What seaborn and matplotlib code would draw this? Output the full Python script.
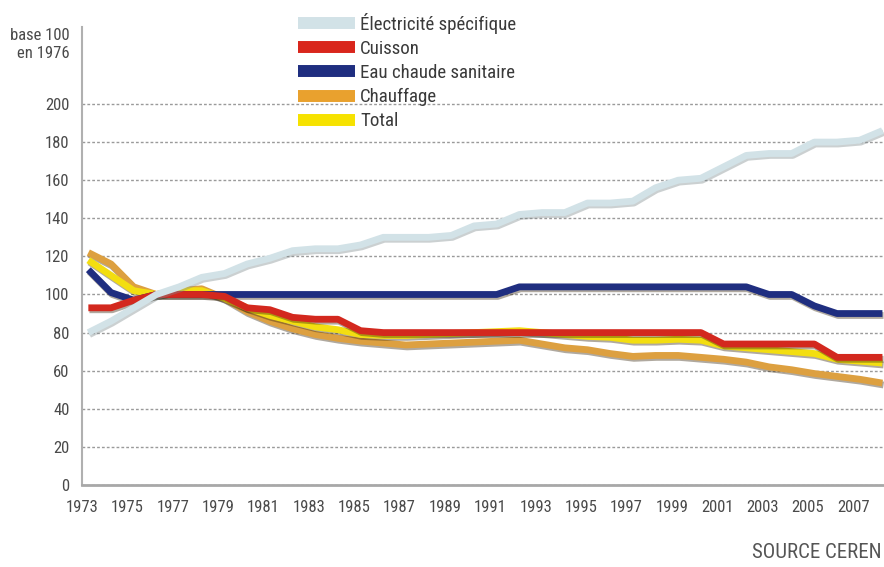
import pandas as pd
import matplotlib
matplotlib.use("Agg")
import matplotlib.pyplot as plt
import matplotlib.patheffects as pe
from matplotlib import font_manager
from matplotlib.lines import Line2D
import seaborn as sns

# Values (index, base 100 in 1976)
years = list(range(1973, 2009))

electricite = [80, 86, 93, 100, 104, 109, 111, 116, 119, 123, 124, 124, 126, 130, 130, 130, 131, 136,
               137, 142, 143, 143, 148, 148, 149, 156, 160, 161, 167, 173, 174, 174, 180, 180, 181, 186]
cuisson = [93, 93, 97, 100, 100, 100, 99, 93, 92, 88, 87, 87, 81,
           80, 80, 80, 80, 80, 80, 80, 80, 80, 80, 80, 80, 80, 80, 80,
           74, 74, 74, 74, 74, 67, 67, 67]
eau_chaude = [113, 101, 97] + [100] * 16 + [104] * 11 + [100, 100, 94, 90, 90, 90]
chauffage = [122, 116, 104, 100, 102, 103, 98, 91, 86, 82, 79, 77, 75.5, 74.5, 73.5, 74, 74.5, 75,
             75.5, 76, 74, 72, 71, 69, 67.5, 68, 68, 67, 66, 64.5, 62, 60.5, 58.5, 57, 55.5, 53.5]
total = [118, 110, 102, 100, 102, 102, 98, 93, 89, 86, 83, 81.5, 79, 78.5, 78.5, 79, 79.5, 80,
         80.5, 81, 80, 79, 78, 77.5, 76, 76, 76.5, 76, 73, 72, 71, 70, 69, 66, 65, 64]

series_names = ["Électricité spécifique", "Cuisson", "Eau chaude sanitaire", "Chauffage", "Total"]
series_values = [electricite, cuisson, eau_chaude, chauffage, total]
colors = ["#D2E2E7", "#D9261C", "#1F2E80", "#E9A12E", "#F6E200"]
line_colors = ["#D2E2E7", "#D3281E", "#1F2E80", "#DDA040", "#F3DE10"]
z_order = [6, 5, 4, 2, 3]

tick_years = list(range(1973, 2009, 2))

df = pd.DataFrame({
    "annee": years * len(series_names),
    "valeur": sum(series_values, []),
    "usage": [n for n in series_names for _ in years],
})

sns.set_theme(style="white")

# pick a narrow face if one is around, the original uses a condensed grotesque
fonts = font_manager.fontManager.ttflist
names = {f.name for f in fonts}
stretch = "normal"
main_font = None
for cand in ["Liberation Sans Narrow", "Roboto Condensed", "Open Sans Condensed", "Noto Sans Condensed"]:
    if cand in names:
        main_font = cand
        break
if main_font is None:
    for fam in ["DejaVu Sans", "Noto Sans", "Roboto", "Open Sans"]:
        if any(f.name == fam and str(f.stretch) in ("condensed", "semi-condensed", "500", "75", "87.5")
               for f in fonts):
            main_font = fam
            stretch = "condensed"
            break
narrow = main_font is not None
if main_font is None:
    main_font = "Liberation Sans"
plt.rcParams["font.family"] = [main_font, "DejaVu Sans"]
plt.rcParams["font.stretch"] = stretch
scale = 1.0 if narrow else 0.85

fig = plt.figure(figsize=(8.84, 5.67), dpi=100)
ax = fig.add_axes([82 / 884, 82 / 567, 802 / 884, 458 / 567])

for name, col, z in zip(series_names, line_colors, z_order):
    sub = df[df["usage"] == name]
    sns.lineplot(data=sub, x="annee", y="valeur", color=col, linewidth=4.9, ax=ax, legend=False)
    line = ax.lines[-1]
    line.set_zorder(z)
    line.set_solid_capstyle("butt")
    line.set_solid_joinstyle("round")
    shadow = "#7d8a8d" if name.startswith("Élec") else "#3a2a10"
    line.set_path_effects([pe.SimpleLineShadow(offset=(0.8, -1.4), shadow_color=shadow, alpha=0.4),
                           pe.Normal()])

# axes
ax.set_xlim(1972.736, 2008.07)
ax.set_ylim(0, 240.4)
ax.set_yticks(range(0, 201, 20))
ax.set_xticks([y - 0.28 for y in tick_years])
ax.set_xticklabels([str(y) for y in tick_years])
ax.set_xlabel("")
ax.set_ylabel("")
ax.tick_params(axis="both", length=0, labelsize=12 * scale, labelcolor="#4a4a4a")
ax.tick_params(axis="y", pad=9)
ax.tick_params(axis="x", pad=11)
ax.yaxis.grid(True, color="#9a9a9a", linestyle=(0, (2, 1.5)), linewidth=1)
ax.xaxis.grid(False)
for s in ["top", "right"]:
    ax.spines[s].set_visible(False)
ax.spines["left"].set_color("#b0b0b0")
ax.spines["left"].set_linewidth(1.5)
ax.spines["bottom"].set_color("#a8a8a8")
ax.spines["bottom"].set_linewidth(2)

# legend
handles = [Line2D([0], [0], color=c, linewidth=8.6, solid_capstyle="butt") for c in colors]
leg = fig.legend(handles, series_names, loc="upper left", bbox_to_anchor=(298 / 884, 1 - 13 / 567),
                 frameon=False, fontsize=13.6 * scale, handlelength=3.0 / scale, handletextpad=0.3,
                 labelspacing=0.32 / scale + (0.0 if narrow else 0.12), borderpad=0, borderaxespad=0)
for t in leg.get_texts():
    t.set_color("#3a3a3a")

fig.text(70 / 884, 1 - 45 / 567, "base 100\nen 1976", ha="right", va="center",
         fontsize=12 * scale, color="#4a4a4a", linespacing=1.25, multialignment="right")
fig.text(881 / 884, 1 - 553 / 567, "SOURCE CEREN", ha="right", va="center",
         fontsize=15 * scale, color="#555555")

fig.savefig("out.png", dpi=100)
